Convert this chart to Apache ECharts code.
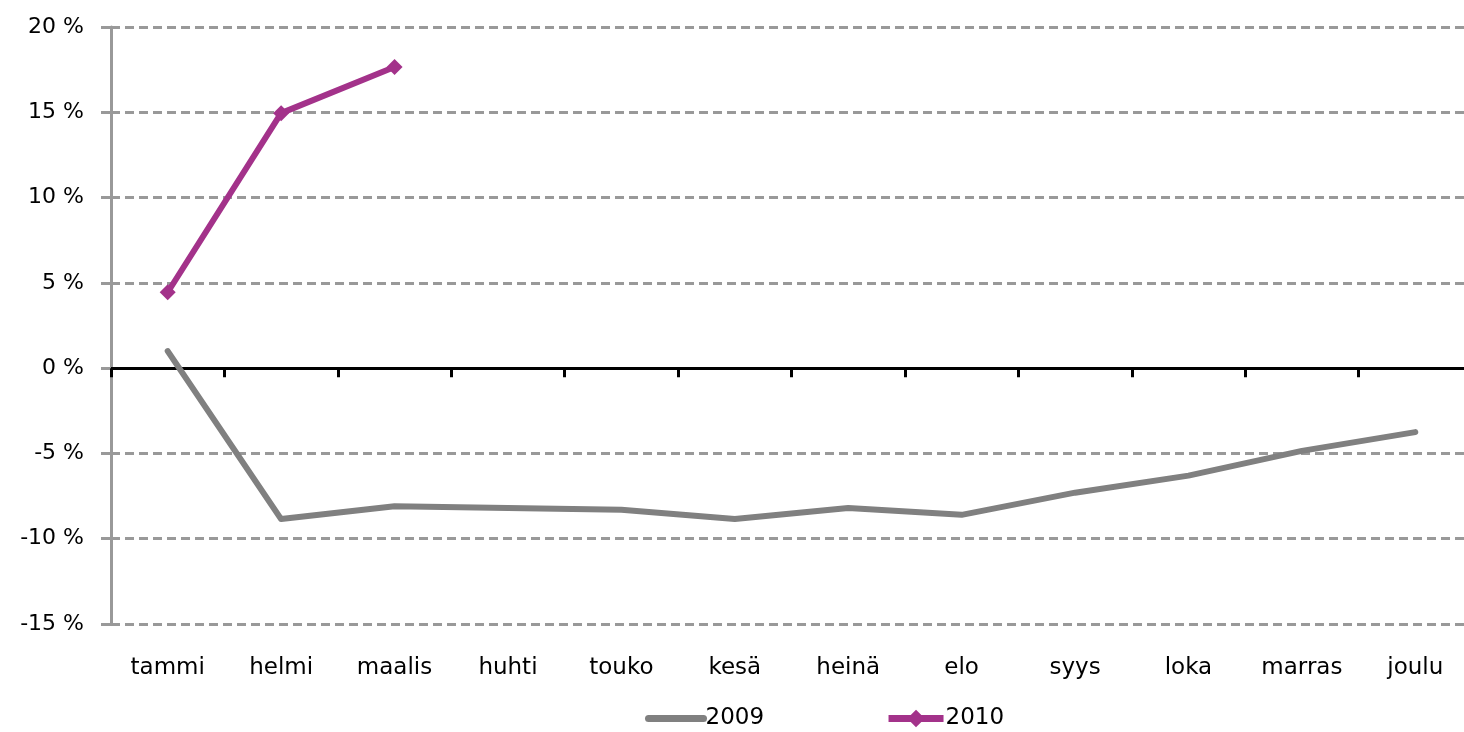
<!DOCTYPE html>
<html><head><meta charset="utf-8">
<script src="https://cdn.jsdelivr.net/npm/echarts@6/dist/echarts.min.js"></script>
<style>html,body{margin:0;padding:0;background:#fff}#c{width:1464px;height:732px}</style>
</head><body><div id="c"></div>
<script>
const categories = ['tammi','helmi','maalis','huhti','touko','kesä','heinä','elo','syys','loka','marras','joulu'];
const values2009 = [1.0, -8.85, -8.1, -8.2, -8.3, -8.85, -8.2, -8.6, -7.3, -6.3, -4.85, -3.75];
const values2010 = [4.45, 14.95, 17.65, null, null, null, null, null, null, null, null, null];
const seriesNames = ['2009', '2010'];
const yTicks = {min: -15, max: 20, interval: 5};

const font = 'DejaVu Sans';
const grey = '#808080', purple = '#A3328A';
const chart = echarts.init(document.getElementById('c'));
chart.setOption({
  animation: false,
  backgroundColor: '#fff',
  grid: {left: 111, top: 27, bottom: 108, right: -8, containLabel: false, outerBoundsMode: 'none'},
  legend: {
    top: 707, left: 645, padding: 0, itemGap: 121, itemWidth: 55, itemHeight: 22,
    textStyle: {fontFamily: font, fontSize: 23, color: '#000', padding: [0,0,0,-3]},
    data: [
      {name: seriesNames[0], itemStyle: {opacity: 0}, lineStyle: {width: 7, color: grey}},
      {name: seriesNames[1], lineStyle: {width: 7, color: purple}}
    ]
  },
  xAxis: [{
    type: 'category', data: categories, position: 'bottom',
    axisLine: {show: false, onZero: false}, axisTick: {show: false},
    axisLabel: {fontFamily: font, fontSize: 23, color: '#000', margin: 33, interval: 0}
  }, {
    type: 'category', data: categories, position: 'top',
    axisLine: {show: true, onZero: true, onZeroAxisIndex: 0, lineStyle: {color: '#000', width: 3}},
    axisTick: {show: true, inside: true, length: 9, lineStyle: {color: '#000', width: 3}},
    axisLabel: {show: false}
  }],
  yAxis: {
    type: 'value', min: yTicks.min, max: yTicks.max, interval: yTicks.interval,
    axisLine: {show: true, onZero: false, lineStyle: {color: '#999', width: 3}},
    axisTick: {show: true, length: 10, lineStyle: {color: '#999', width: 3}},
    axisLabel: {formatter: '{value} %', fontFamily: font, fontSize: 22, color: '#000', margin: 27},
    splitLine: {lineStyle: {color: '#999', width: 3, type: [9, 5]}}
  },
  series: [{
    name: seriesNames[0], type: 'line', data: values2009, xAxisIndex: 0,
    symbol: 'none', lineStyle: {color: grey, width: 6, cap: 'round', join: 'round'},
    itemStyle: {color: grey}, z: 3
  }, {
    name: seriesNames[1], type: 'line', data: values2010, xAxisIndex: 0,
    symbol: 'diamond', symbolSize: 16, showSymbol: true,
    lineStyle: {color: purple, width: 6}, itemStyle: {color: purple}, z: 4
  }]
});
</script></body></html>
